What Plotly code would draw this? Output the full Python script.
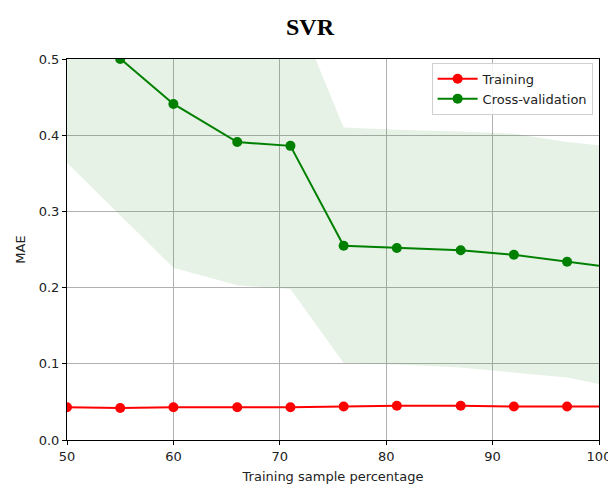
import plotly.graph_objects as go

# Data
train_pct = [50, 55, 60, 66, 71, 76, 81, 87, 92, 97, 102]
train_mae = [0.043, 0.042, 0.043, 0.043, 0.043, 0.044, 0.045, 0.045, 0.044, 0.044, 0.044]
cv_mae = [0.56, 0.50, 0.441, 0.391, 0.386, 0.255, 0.252, 0.249, 0.243, 0.234, 0.225]
cv_upper = [0.756, 0.705, 0.656, 0.579, 0.58, 0.41, 0.407, 0.405, 0.402, 0.391, 0.384]
cv_lower = [0.364, 0.295, 0.226, 0.203, 0.198, 0.101, 0.099, 0.095, 0.088, 0.082, 0.068]

title_text = "SVR"
x_label = "Training sample percentage"
y_label = "MAE"

RED = "rgb(255,0,0)"
GREEN = "rgb(0,128,0)"

fig = go.Figure()
fig.add_trace(go.Scatter(x=train_pct, y=cv_upper, mode="lines", line=dict(width=0),
                         showlegend=False, hoverinfo="skip"))
fig.add_trace(go.Scatter(x=train_pct, y=cv_lower, mode="lines", line=dict(width=0),
                         fill="tonexty", fillcolor="rgba(0,128,0,0.1)",
                         showlegend=False, hoverinfo="skip"))
fig.add_trace(go.Scatter(x=train_pct, y=train_mae, mode="lines+markers", name="Training",
                         line=dict(color=RED, width=2), marker=dict(color=RED, size=10)))
fig.add_trace(go.Scatter(x=train_pct, y=cv_mae, mode="lines+markers", name="Cross-validation",
                         line=dict(color=GREEN, width=2), marker=dict(color=GREEN, size=10)))

axis_common = dict(showline=True, mirror=True, linecolor="black", linewidth=1,
                   ticks="outside", ticklen=4, tickcolor="black",
                   showgrid=True, gridcolor="#b0b0b0", gridwidth=1, zeroline=False,
                   tickfont=dict(family="DejaVu Sans", size=13, color="#222"),
                   ticklabeloverflow="allow", automargin=False,
                   )

fig.update_xaxes(range=[50, 100], tickvals=[50, 60, 70, 80, 90, 100],
                 title=dict(text=x_label, font=dict(family="DejaVu Sans", size=13, color="#222"), standoff=9),
                 **axis_common)
fig.update_yaxes(range=[0, 0.5], tickvals=[0, 0.1, 0.2, 0.3, 0.4, 0.5], tickformat=".1f",
                 title=dict(text=y_label, font=dict(family="DejaVu Sans", size=13, color="#222"), standoff=10),
                 **axis_common)

fig.update_layout(
    width=608, height=484,
    margin=dict(l=67, r=9, t=59, b=44),
    paper_bgcolor="white", plot_bgcolor="white",
    title=dict(text="<b>" + title_text + "</b>", x=310 / 608, xanchor="center", xref="container",
               y=1 - 27 / 484, yanchor="middle", yref="container",
               font=dict(family="Liberation Serif", size=24, color="black")),
    legend=dict(x=0.988, xanchor="right", y=0.99, yanchor="top", traceorder="normal",
                bgcolor="rgba(255,255,255,0.85)", bordercolor="#d0d0d0", borderwidth=1,
                tracegroupgap=0, itemwidth=40,
                font=dict(family="DejaVu Sans", size=13, color="#222")),
    showlegend=True,
)

fig.write_html("out.html")
